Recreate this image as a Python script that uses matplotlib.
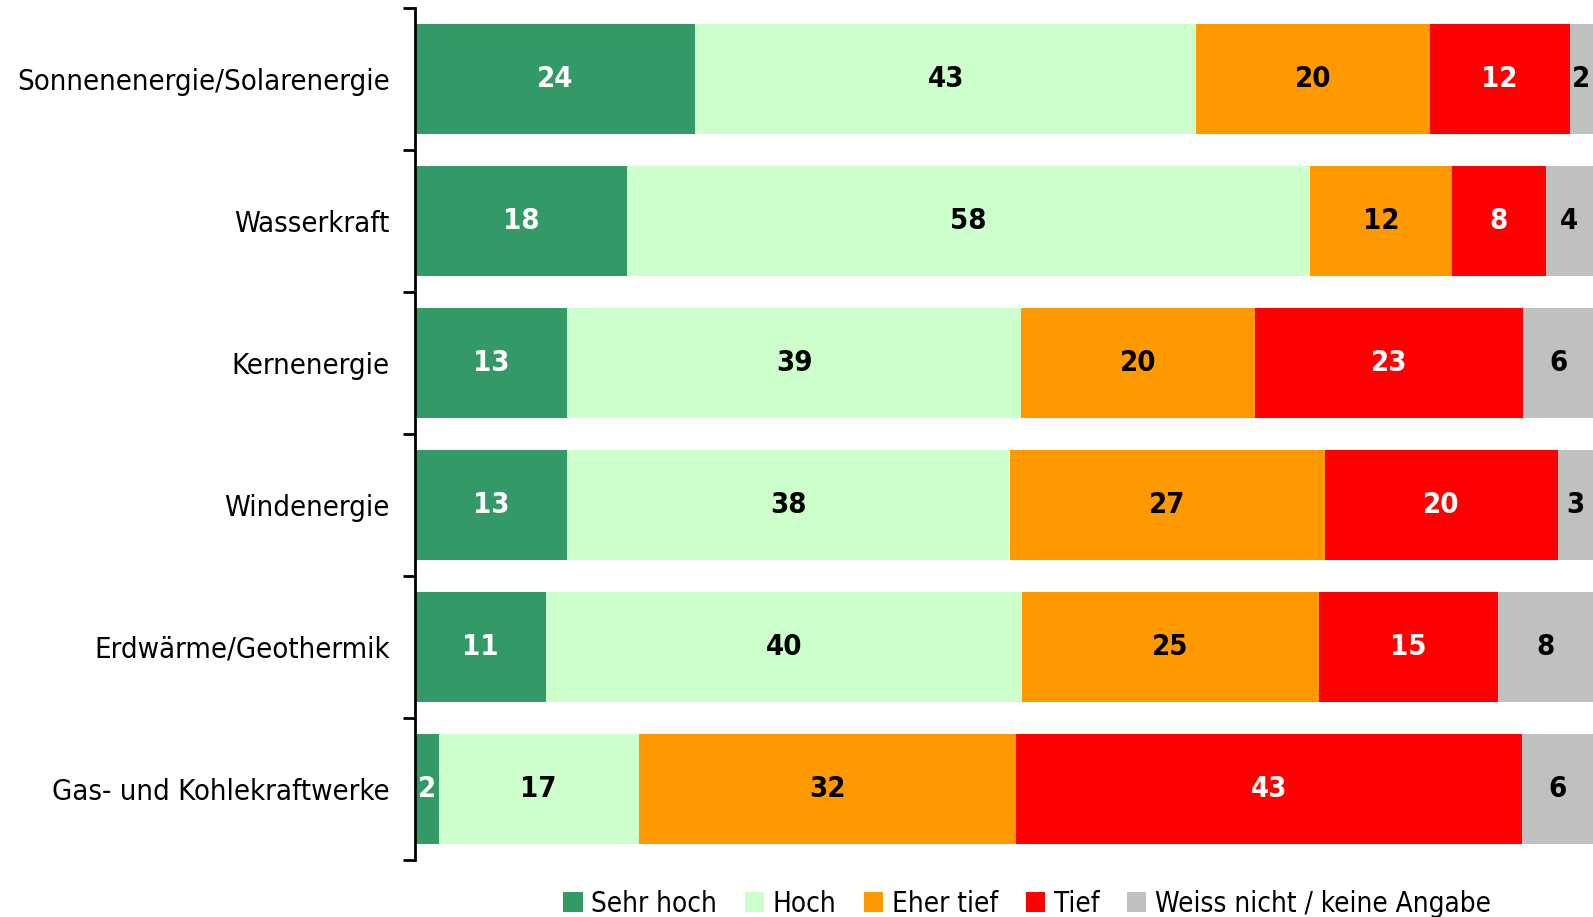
import matplotlib
matplotlib.use("Agg")
import matplotlib.pyplot as plt
from matplotlib.patches import Patch
import numpy as np

categories = ["Sonnenenergie/Solarenergie", "Wasserkraft", "Kernenergie",
              "Windenergie", "Erdwärme/Geothermik", "Gas- und Kohlekraftwerke"]
series_names = ["Sehr hoch", "Hoch", "Eher tief", "Tief", "Weiss nicht / keine Angabe"]
sehr_hoch = [24, 18, 13, 13, 11, 2]
hoch = [43, 58, 39, 38, 40, 17]
eher_tief = [20, 12, 20, 27, 25, 32]
tief = [12, 8, 23, 20, 15, 43]
weiss_nicht = [2, 4, 6, 3, 8, 6]

series = [sehr_hoch, hoch, eher_tief, tief, weiss_nicht]
colors = ["#339966", "#CCFFCC", "#FF9900", "#FF0000", "#C0C0C0"]
text_colors = ["white", "black", "black", "white", "black"]

plt.rcParams['font.family'] = ['DejaVu Sans']
plt.rcParams['font.stretch'] = 'condensed'

fig = plt.figure(figsize=(15.93, 9.17), dpi=100)
ax = fig.add_axes([0.2605, 0.0622, 0.7395, 0.9291])

y = np.arange(len(categories))
data = np.array(series, dtype=float)
totals = data.sum(axis=0)
pct = data / totals * 100.0  # 100 % stacked bars
left = np.zeros(len(categories))
for vals, shares, col, tcol, name in zip(data, pct, colors, text_colors, series_names):
    ax.barh(y, shares, left=left, height=0.775, color=col, label=name)
    for i in range(len(categories)):
        cx = left[i] + shares[i] / 2
        ax.text(cx, y[i], f"{int(vals[i])}", ha="center", va="center", color=tcol,
                fontsize=21, fontweight="bold", clip_on=True)
    left += shares

ax.set_xlim(0, 100)
ax.set_ylim(len(categories) - 0.5, -0.5)
ax.set_yticks(y)
ax.set_yticklabels(categories, fontsize=21)
ax.tick_params(axis="y", which="major", length=0, pad=18)
ax.set_yticks(np.arange(-0.5, len(categories), 1.0), minor=True)
ax.tick_params(axis="y", which="minor", length=9, width=2, direction="out")
ax.set_xticks([])
for s in ["top", "right", "bottom"]:
    ax.spines[s].set_visible(False)
ax.spines["left"].set_linewidth(2)

handles = [Patch(facecolor=c, edgecolor="none") for c in colors]
leg = fig.legend(handles, series_names, loc="center", bbox_to_anchor=(0.6447, 0.0145),
                 ncol=5, frameon=False, fontsize=20, handlelength=0.7, handleheight=0.7,
                 handletextpad=0.3, columnspacing=1.0, borderaxespad=0)

fig.savefig("out.png", dpi=100)
